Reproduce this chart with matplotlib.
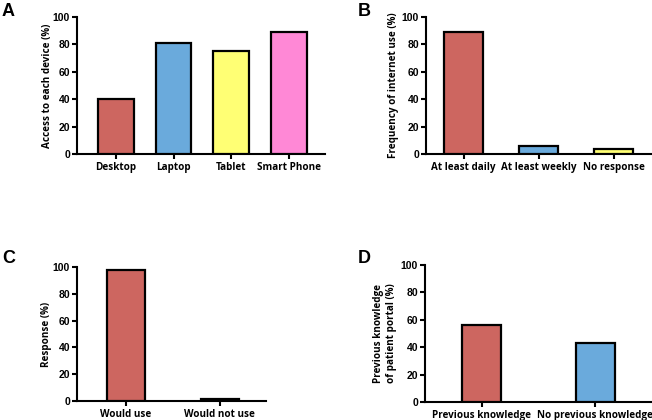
import matplotlib
matplotlib.use("Agg")
import matplotlib.pyplot as plt
import numpy as np

# Data
a_cats = ["Desktop", "Laptop", "Tablet", "Smart Phone"]
a_vals = [40, 81, 75, 89]
b_cats = ["At least daily", "At least weekly", "No response"]
b_vals = [89, 5.5, 3.5]
c_cats = ["Would use", "Would not use"]
c_vals = [97.5, 1.2]
d_cats = ["Previous knowledge", "No previous knowledge"]
d_vals = [56, 43]
y_ticks = [0, 20, 40, 60, 80, 100]

RED = "#cd6660"
BLUE = "#6aaadc"
YELLOW = "#ffff74"
PINK = "#ff88d6"

W, H = 652, 420
fig = plt.figure(figsize=(W / 100, H / 100), dpi=100)

def px_axes(l, r, t, b):
    return fig.add_axes([l / W, 1 - b / H, (r - l) / W, (b - t) / H])

LABEL_FONT = ["Open Sans", "DejaVu Sans"]
TICK_FONT = ["Liberation Sans", "DejaVu Sans"]

def style(ax, cats, vals, colors, width, ylabel, ylabel_x, xlim):
    x = np.arange(len(cats))
    ax.bar(x, vals, width=width, color=colors, edgecolor="black", linewidth=1.6, zorder=3)
    ax.set_xlim(*xlim)
    ax.set_ylim(0, 100)
    ax.set_yticks(y_ticks)
    ax.set_yticklabels([str(v) for v in y_ticks], fontfamily=TICK_FONT, fontweight="bold", fontsize=7.5)
    ax.set_xticks(x)
    ax.set_xticklabels(cats, fontfamily=LABEL_FONT, fontweight="bold", fontsize=7.1)
    for s in ["top", "right"]:
        ax.spines[s].set_visible(False)
    for s in ["left", "bottom"]:
        ax.spines[s].set_linewidth(1.5)
    ax.tick_params(axis="both", width=1.5, length=3.5, pad=1.5)
    ax.tick_params(axis="x", pad=2.5)
    ax.set_ylabel(ylabel, fontfamily=LABEL_FONT, fontweight="bold", fontsize=7.1, linespacing=1.25)
    ax.yaxis.set_label_coords(ylabel_x, 0.5)
    ax.patch.set_alpha(0)

axA = px_axes(77, 325, 17, 154)
style(axA, a_cats, a_vals, [RED, BLUE, YELLOW, PINK], 0.62, "Access to each device (%)", -0.097, (-0.67, 3.62))

axB = px_axes(426, 651, 17, 154)
style(axB, b_cats, b_vals, [RED, BLUE, YELLOW], 0.51, "Frequency of internet use (%)", -0.122, (-0.5, 2.5))

axC = px_axes(77, 266, 267, 401)
style(axC, c_cats, c_vals, [RED, BLUE], 0.4, "Response (%)", -0.13, (-0.52, 1.49))

axD = px_axes(425, 652, 265, 402)
style(axD, d_cats, d_vals, [RED, BLUE], 0.34, "Previous knowledge\nof patient portal (%)", -0.125, (-0.5, 1.5))

for letter, xp, yp in [("A", 2, 3), ("B", 358, 3), ("C", 2, 250), ("D", 358, 250)]:
    fig.text(xp / W, 1 - yp / H, letter, fontfamily=TICK_FONT, fontweight="bold", fontsize=13, va="top", ha="left")

fig.savefig("out.png", dpi=100)
